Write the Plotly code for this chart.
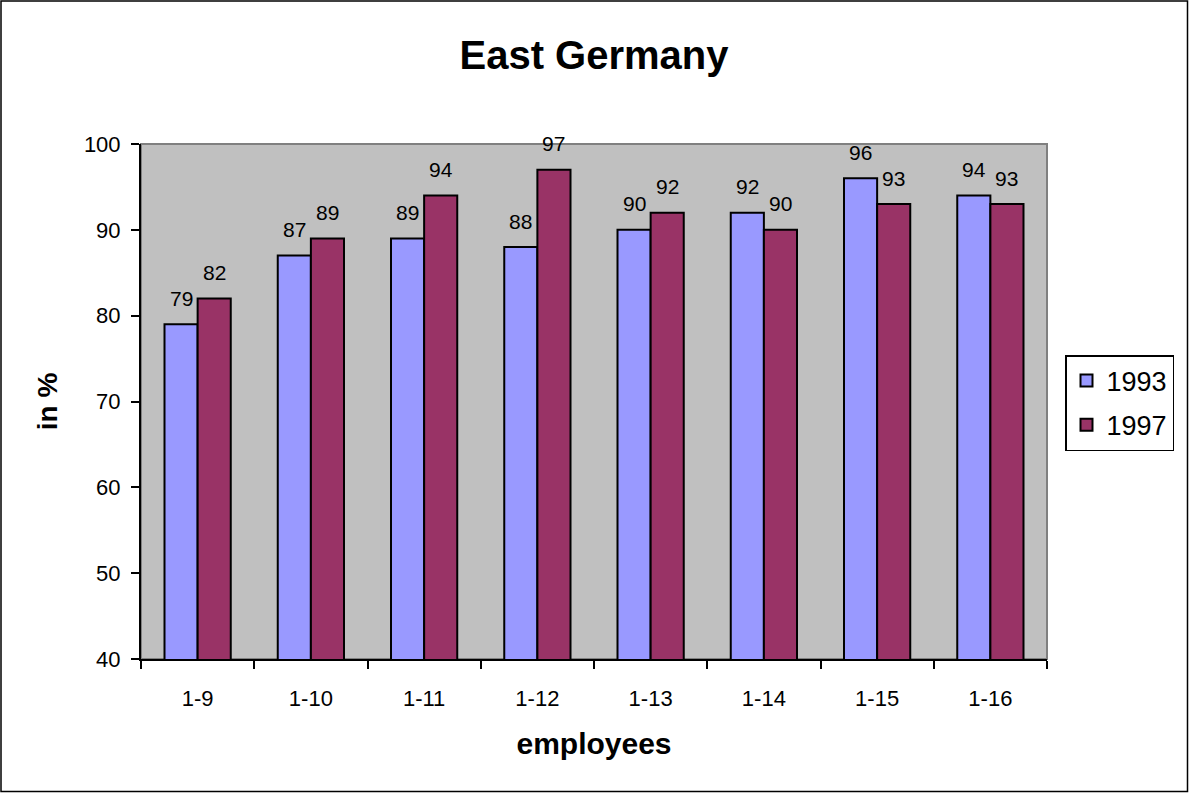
import plotly.graph_objects as go

categories = ["1-9", "1-10", "1-11", "1-12", "1-13", "1-14", "1-15", "1-16"]
values_1993 = [79, 87, 89, 88, 90, 92, 96, 94]
values_1997 = [82, 89, 94, 97, 92, 90, 93, 93]
series_names = ["1993", "1997"]
colors = ["#9999FF", "#993366"]

W, H = 1189, 793
L, R, T, B = 141, 142, 144, 134
pw, ph = W - L - R, H - T - B

FONT = "Liberation Sans, Arial"

fig = go.Figure()
for name, vals, col in zip(series_names, [values_1993, values_1997], colors):
    fig.add_trace(go.Bar(
        x=categories, y=vals, name=name, legendgroup=name,
        marker=dict(color=col, line=dict(color="black", width=2)),
    ))

annotations = []
for vals, shift in [(values_1993, -16.5), (values_1997, 16.5)]:
    for c, v in zip(categories, vals):
        annotations.append(dict(
            x=c, y=v, xref="x", yref="y", text=str(v), showarrow=False,
            xshift=shift, yshift=26, yanchor="middle", xanchor="center",
            font=dict(family=FONT, size=21, color="black"),
        ))

def px_x(p):
    return (p - L) / pw

def px_y(p):
    return (H - B - p) / ph

shapes = [
    dict(type="rect", xref="paper", yref="paper", x0=0, x1=1, y0=0, y1=1,
         line=dict(color="#808080", width=2), layer="below"),
    dict(type="rect", xref="paper", yref="paper",
         x0=px_x(1), x1=px_x(W - 1.5), y0=px_y(H - 1.5), y1=px_y(1),
         line=dict(color="black", width=1.5)),
]

fig.update_layout(
    width=W, height=H,
    margin=dict(l=L, r=R, t=T, b=B),
    paper_bgcolor="white",
    plot_bgcolor="#C0C0C0",
    barmode="group",
    bargap=0.415,
    bargroupgap=0,
    font=dict(family=FONT, color="black"),
    title=dict(text="<b>East Germany</b>", x=0.5, xref="paper", y=1 - 55 / H,
               yanchor="middle", font=dict(size=40)),
    xaxis=dict(
        showgrid=False, showline=True, linecolor="black", linewidth=2,
        ticks="outside", ticklen=8, tickwidth=2, tickcolor="black",
        tickson="boundaries", tickfont=dict(size=22),
        ticklabelstandoff=19,
        title=dict(text="<b>employees</b>", font=dict(size=30), standoff=23),
    ),
    yaxis=dict(
        range=[40, 100], dtick=10, showgrid=False, showline=True,
        linecolor="black", linewidth=2, ticks="outside", ticklen=8,
        tickwidth=2, tickcolor="black", tickfont=dict(size=22),
        ticklabelstandoff=6, zeroline=False,
        title=dict(text="<b>in %</b>", font=dict(size=28), standoff=18),
    ),
    legend=dict(
        x=px_x(1065), y=px_y(355), xanchor="left", yanchor="top",
        bordercolor="black", borderwidth=1.5, bgcolor="white",
        font=dict(size=27), tracegroupgap=6, itemwidth=30,
    ),
    annotations=annotations,
    shapes=shapes,
)

fig.write_html("out.html")
